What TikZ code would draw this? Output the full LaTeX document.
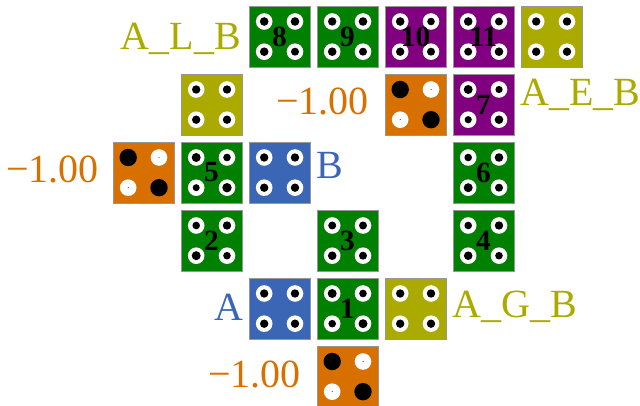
\documentclass[tikz,border=0pt]{standalone}
\usepackage{fontspec}
\setmainfont{Liberation Serif}
\usepackage{xcolor}

\definecolor{tgreen}{RGB}{0,128,0}
\definecolor{tpurple}{RGB}{128,0,128}
\definecolor{tolive}{RGB}{170,170,0}
\definecolor{tblue}{RGB}{58,102,181}
\definecolor{torange}{RGB}{216,112,0}

% tile with four holes: name, column, row, fill, number, inner radii TL TR BL BR
\newcommand{\dietile}[9]{%
\begin{scope}[shift={({143.5+68*#2},{36.5+68*#3})}]
\node [tilebox, fill=#4] (#1) at (0,0) {};
\fill [white] (-15.3,-15) circle (8.3);  \fill (-15.3,-15) circle (#6);
\fill [white] (15.5,-15) circle (8.3);   \fill (15.5,-15) circle (#7);
\fill [white] (-15.3,15.2) circle (8.3); \fill (-15.3,15.2) circle (#8);
\fill [white] (15.5,15.2) circle (8.3);  \fill (15.5,15.2) circle (#9);
\node [tilenum] at (0,0) {#5};
\end{scope}}

% orange tile: name, column, row
\newcommand{\negtile}[3]{%
\begin{scope}[shift={({143.5+68*#2},{36.5+68*#3})}]
\node [tilebox, fill=torange] (#1) at (0,0) {};
\fill (-15.3,-15) circle (8.7);
\fill [white] (15.5,-15) circle (8.3);  \fill (15.5,-15) circle (0.5);
\fill [white] (-15.3,15.2) circle (8.3); \fill (-15.3,15.2) circle (0.5);
\fill (15.5,15.2) circle (8.7);
\end{scope}}

\begin{document}
\begin{tikzpicture}[x=0.75pt,y=0.75pt,yscale=-1,xscale=1,
  tilebox/.style={draw={rgb,255:red,150;green,150;blue,150}, line width=0.6pt, minimum width=45.75pt, minimum height=45.75pt, inner sep=0pt},
  tilenum/.style={inner sep=0pt, font=\bfseries\fontsize{22}{26}\selectfont},
  lbl/.style={inner sep=0pt, font=\fontsize{30}{36}\selectfont}]
\path [use as bounding box] (0,0) rectangle (640,406);

% Row 0
\dietile{tile8}{2}{0}{tgreen}{8}{4.3}{4.3}{4.3}{4.0}
\dietile{tile9}{3}{0}{tgreen}{9}{4.2}{4.3}{4.3}{4.0}
\dietile{tile10}{4}{0}{tpurple}{10}{4.3}{3.8}{4.2}{4.0}
\dietile{tile11}{5}{0}{tpurple}{11}{4.3}{4.0}{4.0}{4.3}
\dietile{boxE}{6}{0}{tolive}{}{4.2}{4.2}{4.2}{4.2}
% Row 1
\dietile{boxL}{1}{1}{tolive}{}{4.2}{4.2}{4.2}{4.2}
\negtile{neg1}{4}{1}
\dietile{tile7}{5}{1}{tpurple}{7}{4.5}{3.6}{3.6}{4.3}
% Row 2
\negtile{neg2}{0}{2}
\dietile{tile5}{1}{2}{tgreen}{5}{4.5}{3.8}{3.5}{4.7}
\dietile{boxB}{2}{2}{tblue}{}{4.2}{4.2}{4.2}{4.2}
\dietile{tile6}{5}{2}{tgreen}{6}{3.8}{4.3}{4.5}{4.0}
% Row 3
\dietile{tile2}{1}{3}{tgreen}{2}{3.8}{4.2}{4.5}{3.8}
\dietile{tile3}{3}{3}{tgreen}{3}{4.0}{4.0}{4.3}{4.0}
\dietile{tile4}{5}{3}{tgreen}{4}{3.8}{4.2}{4.3}{3.8}
% Row 4
\dietile{boxA}{2}{4}{tblue}{}{4.2}{4.2}{4.2}{4.2}
\dietile{tile1}{3}{4}{tgreen}{1}{4.5}{3.8}{3.8}{4.5}
\dietile{boxG}{4}{4}{tolive}{}{4.2}{4.2}{4.2}{4.2}
% Row 5
\negtile{neg3}{3}{5}

% Text Node
\node [lbl, text=tolive, anchor=base east] (lblL) at (241,49.3) {A\_L\_B};
% Text Node
\node [lbl, text=torange, anchor=base east] (lblN1) at (369,114.3) {−1.00};
% Text Node
\node [lbl, text=tolive, anchor=base west] (lblE) at (520,106) {A\_E\_B};
% Text Node
\node [lbl, text=torange, anchor=base east] (lblN2) at (99,182.7) {−1.00};
% Text Node
\node [lbl, text=tblue, anchor=base west] (lblB) at (316,178.3) {B};
% Text Node
\node [lbl, text=tblue, anchor=base east] (lblA) at (244,320.7) {A};
% Text Node
\node [lbl, text=tolive, anchor=base west] (lblG) at (452.5,317.7) {A\_G\_B};
% Text Node
\node [lbl, text=torange, anchor=base east] (lblN3) at (301,387.3) {−1.00};

\end{tikzpicture}
\end{document}
